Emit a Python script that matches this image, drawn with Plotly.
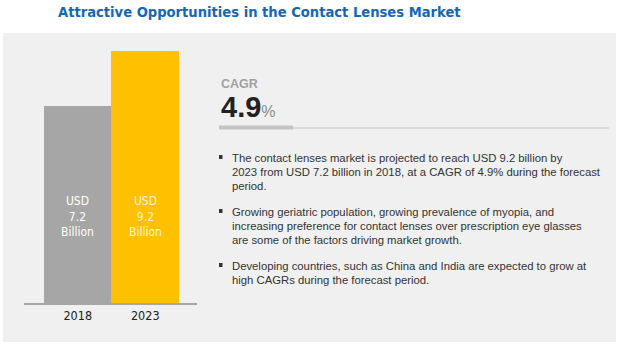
import plotly.graph_objects as go

# ---- data ----
years = ["2018", "2023"]
values = [7.2, 9.2]
bar_labels = ["USD<br>7.2<br>Billion", "USD<br>9.2<br>Billion"]
bar_colors = ["#a6a6a6", "#ffc000"]
title_text = "Attractive Opportunities in the Contact Lenses Market"
cagr_label = "CAGR"
cagr_value = "4.9"
bullets = [
    ["The contact lenses market is projected to reach USD 9.2 billion by",
     "2023 from USD 7.2 billion in 2018, at a CAGR of 4.9% during the forecast",
     "period."],
    ["Growing geriatric population, growing prevalence of myopia, and",
     "increasing preference for contact lenses over prescription eye glasses",
     "are some of the factors driving market growth."],
    ["Developing countries, such as China and India are expected to grow at",
     "high CAGRs during the forecast period."],
]

W, H = 623, 348
def px(x):
    return x / W
def py(y):
    return 1 - y / H

COND = "DejaVu Sans Condensed, Liberation Sans, sans-serif"
ARIAL = "Liberation Sans, Arial, sans-serif"

fig = go.Figure()
fig.add_trace(go.Bar(
    x=years, y=values, marker=dict(color=bar_colors, line=dict(width=0)),
    hoverinfo="skip", showlegend=False,
))

shapes = []
# grey panel
shapes.append(dict(type="rect", xref="paper", yref="paper",
                   x0=px(3), x1=px(616), y0=py(342), y1=py(33),
                   fillcolor="#f0f0f0", line=dict(width=0), layer="below"))
# CAGR underline
shapes.append(dict(type="line", xref="paper", yref="paper",
                   x0=px(293), x1=px(609), y0=py(128), y1=py(128),
                   line=dict(color="#d9d9d9", width=2)))
shapes.append(dict(type="rect", xref="paper", yref="paper",
                   x0=px(219), x1=px(293), y0=py(129.5), y1=py(125.5),
                   fillcolor="#c3c3c3", line=dict(width=0)))

annotations = []
annotations.append(dict(text="<b>" + title_text + "</b>", xref="paper", yref="paper",
                        x=px(259), y=py(12), xanchor="center", yanchor="middle",
                        showarrow=False,
                        font=dict(family=COND, size=14.6, color="#1467b3")))
# bar labels (positioned by category index)
label_colors = ["#ffffff", "#fff6d5"]
for idx, (lab, c) in enumerate(zip(bar_labels, label_colors)):
    annotations.append(dict(text=lab, x=idx, y=3.15, xref="x", yref="y",
                            showarrow=False, xanchor="center", yanchor="middle",
                            font=dict(family=COND, size=12, color=c)))
# CAGR
annotations.append(dict(text="<b>" + cagr_label + "</b>", xref="paper", yref="paper",
                        x=px(219), y=py(84), xanchor="left", yanchor="middle",
                        showarrow=False,
                        font=dict(family=ARIAL, size=12.5, color="#a0a0a0")))
annotations.append(dict(text="<b>" + cagr_value + "</b><span style='font-size:16px;color:#8c8c8c;font-weight:normal'>%</span>",
                        xref="paper", yref="paper",
                        x=px(219), y=py(107), xanchor="left", yanchor="middle",
                        showarrow=False,
                        font=dict(family=ARIAL, size=29, color="#222222")))
# bullets
starts = [158, 212, 266]
for s, para in zip(starts, bullets):
    shapes.append(dict(type="rect", xref="paper", yref="paper",
                       x0=px(219), x1=px(222.5), y0=py(s + 1), y1=py(s - 3),
                       fillcolor="#333333", line=dict(width=0)))
    for i, line in enumerate(para):
        annotations.append(dict(text=line, xref="paper", yref="paper",
                                x=px(230), y=py(s + 14 * i), xanchor="left", yanchor="middle",
                                showarrow=False,
                                font=dict(family=ARIAL, size=11.3, color="#333333")))

fig.update_layout(
    width=W, height=H, margin=dict(l=0, r=0, t=0, b=0),
    paper_bgcolor="#ffffff", plot_bgcolor="rgba(0,0,0,0)",
    bargap=0,
    shapes=shapes, annotations=annotations,
    xaxis=dict(type="category", domain=[px(24), px(197)], range=[-0.796, 1.767],
               showline=True, linecolor="#a6a6a6", linewidth=2,
               showgrid=False, zeroline=False, ticks="",
               tickfont=dict(family=COND, size=12.5, color="#222222")),
    yaxis=dict(domain=[py(303), py(29)], range=[0, 10], visible=False,
               showgrid=False, zeroline=False),
)

fig.write_html("out.html")
